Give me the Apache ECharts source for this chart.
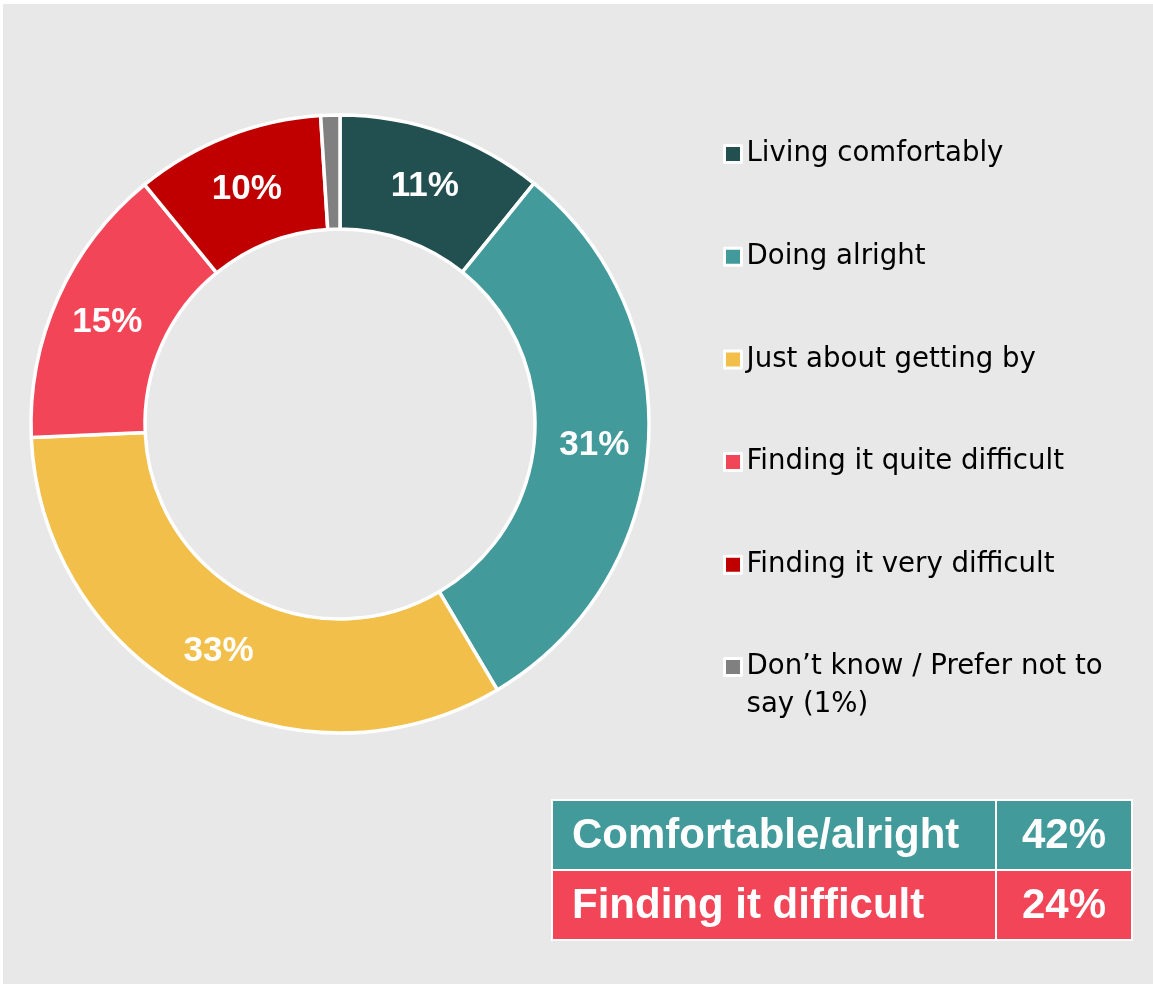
<!DOCTYPE html>
<html lang="en">
<head>
	<title>donut</title>
	<meta charset="UTF-8">
	<script src="https://cdn.jsdelivr.net/npm/echarts@6/dist/echarts.min.js"></script>
<style type="text/css">
	html,body{
		margin: 0;
		padding: 0;
		background-color: #ffffff;
	}
	#main{
		width: 1153px;
		height: 984px;
	}
</style>
</head>
<body>
	<div id="main"></div>
	<script>
		var categories = ['Living comfortably', 'Doing alright', 'Just about getting by',
			'Finding it quite difficult', 'Finding it very difficult', 'Don\u2019t know / Prefer not to say (1%)'];
		var shares = [10.8, 30.7, 32.8, 14.8, 9.9, 1.0];
		var sliceColors = ['#224f50', '#429a9b', '#f1bf4a', '#f24557', '#c00000', '#808080'];

		// summary table on the bottom right
		var summaryLabels = ['Comfortable/alright', 'Finding it difficult'];
		var summaryValues = [42, 24];
		var summaryColors = ['#429a9b', '#f24557'];

		var chart = echarts.init(document.getElementById('main'));

		var pieData = categories.map(function(name, i) {
			var item = {name: name, value: shares[i], itemStyle: {color: sliceColors[i]}};
			if (shares[i] < 2) item.label = {show: false};
			return item;
		});

		// table drawn with graphic rects + text
		var tableEls = [{
			type: 'rect',
			shape: {x: 551, y: 799, width: 582, height: 142},
			style: {fill: '#ffffff'}
		}];
		summaryLabels.forEach(function(lab, i) {
			var y = 801 + i * 70;
			tableEls.push({type: 'rect', shape: {x: 553, y: y, width: 442, height: 68}, style: {fill: summaryColors[i]}});
			tableEls.push({type: 'rect', shape: {x: 997, y: y, width: 134, height: 68}, style: {fill: summaryColors[i]}});
			tableEls.push({type: 'text', x: 572, y: y + 35, style: {
				text: lab, fill: '#ffffff', font: 'bold 42px "Liberation Sans", Arial, sans-serif',
				align: 'left', verticalAlign: 'middle'}});
			tableEls.push({type: 'text', x: 1064, y: y + 35, style: {
				text: summaryValues[i] + '%', fill: '#ffffff', font: 'bold 42px "Liberation Sans", Arial, sans-serif',
				align: 'center', verticalAlign: 'middle'}});
		});

		var legendText = {
			fontFamily: '"DejaVu Sans", sans-serif',
			fontSize: 27.6,
			color: '#000000',
			lineHeight: 38
		};
		var legendIcon = {borderColor: '#ffffff', borderWidth: 3};

		var option = {
			animation: false,
			backgroundColor: '#ffffff',
			graphic: [{
				type: 'rect',
				shape: {x: 3, y: 4, width: 1150, height: 980},
				style: {fill: '#e8e8e8'}
			}].concat(tableEls),
			legend: [{
				orient: 'vertical',
				left: 723,
				top: 135,
				padding: 0,
				itemGap: 64.7,
				itemWidth: 17,
				itemHeight: 17,
				icon: 'rect',
				selectedMode: false,
				data: categories.slice(0, 5),
				itemStyle: legendIcon,
				textStyle: legendText
			}, {
				orient: 'vertical',
				left: 723,
				top: 610,
				padding: 0,
				itemWidth: 17,
				itemHeight: 17,
				icon: 'rect',
				selectedMode: false,
				data: categories.slice(5),
				formatter: function(name) {
					return '\n' + name.replace(' say', '\nsay');
				},
				itemStyle: legendIcon,
				textStyle: legendText
			}],
			series: [{
				type: 'pie',
				center: [340, 424],
				radius: [195, 309],
				startAngle: 90,
				clockwise: true,
				avoidLabelOverlap: false,
				itemStyle: {
					borderColor: '#ffffff',
					borderWidth: 3.5
				},
				label: {
					show: true,
					position: 'inside',
					offset: [0, 3],
					color: '#ffffff',
					fontFamily: '"Liberation Sans", Arial, sans-serif',
					fontWeight: 'bold',
					fontSize: 35,
					formatter: function(p) {
						return Math.round(p.value) + '%';
					}
				},
				labelLine: {show: false},
				emphasis: {disabled: true},
				data: pieData
			}]
		};

		chart.setOption(option);
	</script>
</body>
</html>
